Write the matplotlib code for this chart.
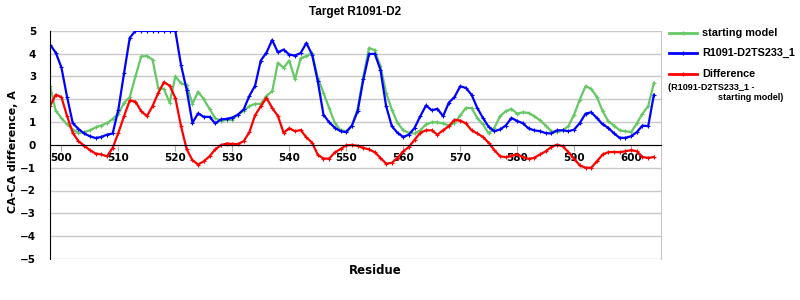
import numpy as np
import matplotlib
matplotlib.use("Agg")
import matplotlib.pyplot as plt
from matplotlib.lines import Line2D

residues = np.arange(498, 605)

model_ts = [4.4, 4.05, 3.4, 2.1, 0.95, 0.7, 0.5, 0.38, 0.3, 0.35,
            0.45, 0.5, 1.55, 3.15, 4.7, 5.0, 5.0, 5.0, 5.0, 5.0,
            5.0, 5.0, 5.0, 3.5, 2.4, 0.97, 1.38, 1.23, 1.23, 0.94,
            1.12, 1.14, 1.2, 1.33, 1.56, 2.15, 2.6, 3.7, 4.05, 4.6,
            4.06, 4.18, 3.96, 3.92, 4.03, 4.47, 3.96, 2.8, 1.33, 0.99,
            0.75, 0.6, 0.56, 0.85, 1.48, 2.87, 3.98, 4.0, 3.3, 1.7,
            0.82, 0.53, 0.35, 0.45, 0.75, 1.26, 1.73, 1.52, 1.58, 1.26,
            1.85, 2.1, 2.57, 2.5, 2.2, 1.62, 1.18, 0.79, 0.6, 0.68,
            0.85, 1.18, 1.05, 0.95, 0.72, 0.64, 0.6, 0.52, 0.5, 0.64,
            0.64, 0.6, 0.67, 0.96, 1.37, 1.43, 1.18, 0.9, 0.75, 0.5,
            0.31, 0.31, 0.38, 0.56, 0.85, 0.82, 2.2]

starting = [2.6, 1.5, 1.18, 0.9, 0.67, 0.53, 0.56, 0.64, 0.77, 0.85,
            0.96, 1.14, 1.37, 1.84, 2.1, 3.0, 3.88, 3.9, 3.74, 2.5,
            2.45, 1.85, 3.0, 2.7, 2.62, 1.8, 2.33, 2.0, 1.58, 1.17,
            1.05, 1.1, 1.1, 1.33, 1.5, 1.7, 1.8, 1.8, 2.15, 2.35,
            3.6, 3.38, 3.7, 2.87, 3.8, 3.9, 4.03, 2.94, 2.28, 1.62,
            0.96, 0.64, 0.6, 0.85, 1.58, 3.0, 4.25, 4.15, 3.45, 2.28,
            1.55, 0.96, 0.64, 0.53, 0.5, 0.64, 0.9, 0.99, 0.99, 0.94,
            0.85, 0.96, 1.29, 1.62, 1.62, 1.18, 0.9, 0.5, 0.75, 1.26,
            1.48, 1.58, 1.37, 1.43, 1.4, 1.26, 1.08, 0.85, 0.6, 0.56,
            0.64, 0.82, 1.33, 1.99, 2.57, 2.46, 2.1, 1.48, 1.04, 0.85,
            0.64, 0.6, 0.56, 0.94, 1.37, 1.7, 2.72]

difference = [1.7, 2.2, 2.1, 1.26, 0.53, 0.16, -0.03, -0.23, -0.38, -0.42,
              -0.5, -0.13, 0.53, 1.26, 1.95, 1.9, 1.48, 1.26, 1.7, 2.28,
              2.75, 2.6, 2.06, 0.82, -0.2, -0.67, -0.86, -0.72, -0.5, -0.2,
              -0.01, 0.06, 0.04, 0.04, 0.16, 0.56, 1.3, 1.7, 2.06, 1.62,
              1.27, 0.53, 0.73, 0.6, 0.65, 0.33, 0.1, -0.43, -0.6, -0.6,
              -0.33, -0.18, -0.02, 0.0, -0.04, -0.13, -0.2, -0.32, -0.57, -0.82,
              -0.79, -0.57, -0.28, -0.09, 0.23, 0.53, 0.64, 0.64, 0.45, 0.64,
              0.82, 1.1, 1.07, 0.94, 0.64, 0.5, 0.35, 0.09, -0.23, -0.5,
              -0.54, -0.47, -0.42, -0.53, -0.61, -0.57, -0.42, -0.28, -0.09, 0.01,
              -0.06, -0.32, -0.61, -0.9, -1.0, -1.0, -0.72, -0.42, -0.32, -0.31,
              -0.32, -0.28, -0.23, -0.28, -0.53, -0.57, -0.53]

green = "#66c864"
blue = "#0000ff"
red = "#ff0000"

fig = plt.figure(figsize=(8, 3), dpi=100)
ax = fig.add_axes([0.0625, 0.137, 0.7634, 0.76])

ax.plot(residues, starting, color=green, lw=1.6, marker="+", ms=2.5, mew=0.8)
ax.plot(residues, model_ts, color=blue, lw=1.6, marker="+", ms=2.5, mew=0.8)
ax.plot(residues, difference, color=red, lw=1.6, marker="+", ms=2.5, mew=0.8)

ax.set_xlim(498, 605.2)
ax.set_ylim(-5, 5)
ax.set_yticks(range(-5, 6))
ax.set_xticks(range(500, 601, 10))
ax.grid(axis="y", color="#c8c8c8", lw=1)
ax.set_axisbelow(True)

ax.spines["bottom"].set_position(("data", 0))
ax.spines["bottom"].set_color("black")
ax.spines["left"].set_color("black")
ax.spines["right"].set_color("#c8c8c8")
ax.spines["top"].set_visible(False)

ax.tick_params(axis="y", length=0, pad=10)
ax.tick_params(axis="x", length=4, color="#aaaaaa", pad=2)
for lab in ax.get_xticklabels() + ax.get_yticklabels():
    lab.set_fontweight("bold")
    lab.set_fontsize(7.5)

fig.text(355 / 800, 1 - 12 / 300, "Target R1091-D2", ha="center", va="center",
         family="Liberation Sans", fontweight="bold", fontsize=8.5)
fig.text(375 / 800, 1 - 270 / 300, "Residue", ha="center", va="center",
         fontweight="bold", fontsize=8.5)
fig.text(13 / 800, 1 - 152 / 300, "CA-CA difference, A", ha="center", va="center",
         rotation=90, fontweight="bold", fontsize=8)

# legend drawn by hand
entries = [(33, green, "starting model"), (53, blue, "R1091-D2TS233_1"),
           (74, red, "Difference")]
for ypix, col, txt in entries:
    yf = 1 - ypix / 300
    fig.add_artist(Line2D([669 / 800, 697 / 800], [yf, yf], color=col, lw=2,
                          transform=fig.transFigure))
    fig.add_artist(Line2D([683 / 800], [yf], color=col, marker="+", ms=3,
                          transform=fig.transFigure))
    fig.text(702 / 800, yf, txt, ha="left", va="center", family="Liberation Sans",
             fontweight="bold", fontsize=7.8)
fig.text(668 / 800, 1 - 87 / 300, "(R1091-D2TS233_1 -", ha="left", va="center",
         family="Liberation Sans", fontweight="bold", fontsize=6.5)
fig.text(718 / 800, 1 - 98 / 300, "starting model)", ha="left", va="center",
         family="Liberation Sans", fontweight="bold", fontsize=6.5)

fig.savefig("out.png", dpi=100)
